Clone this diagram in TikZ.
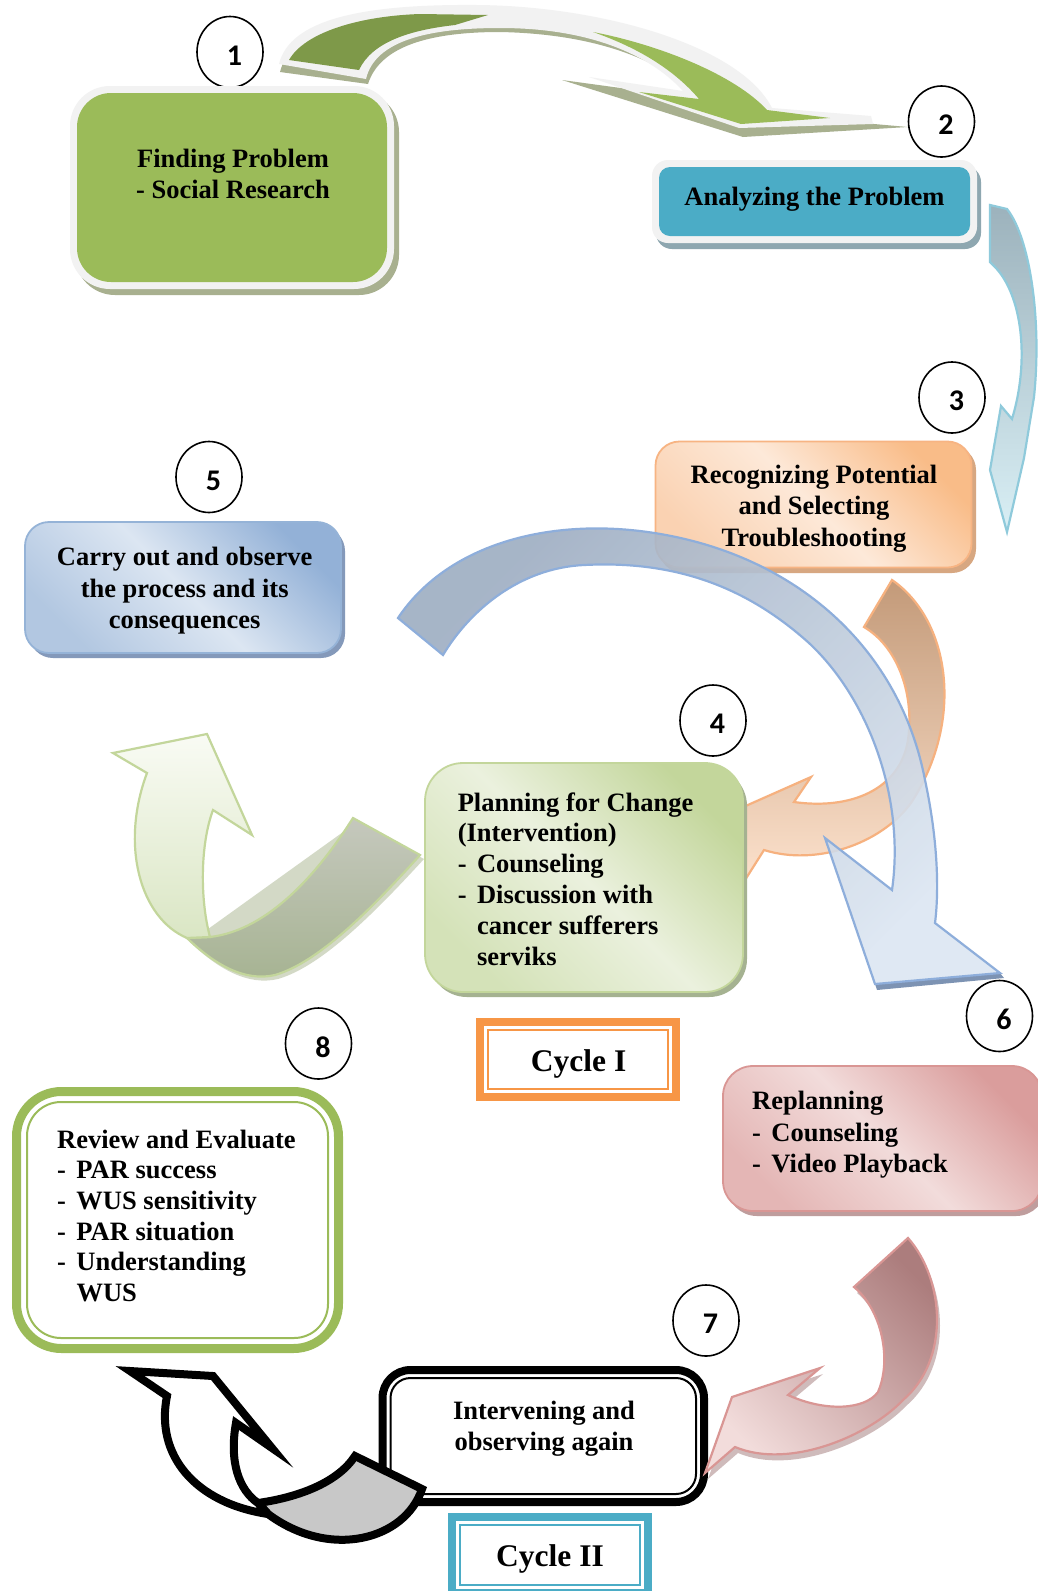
\documentclass[tikz,border=0pt]{standalone}
\usepackage{fontspec}
\setmainfont{Liberation Serif}
\newfontfamily\numfont{Carlito}
\usetikzlibrary{shapes.geometric}
\definecolor{olgreen}{HTML}{9BBB59}
\definecolor{oldark}{HTML}{7E9949}
\definecolor{framegray}{HTML}{F2F2F2}
\definecolor{shgreen}{HTML}{A8B08F}
\definecolor{aqua}{HTML}{4BACC6}
\definecolor{shaqua}{HTML}{8EA7B0}
\definecolor{orangeacc}{HTML}{F79646}
\definecolor{orbord}{HTML}{F7B483}
\definecolor{orshadow}{HTML}{D7A781}
\definecolor{orTR}{HTML}{F9BC88}
\definecolor{orMid}{HTML}{FDE9D9}
\definecolor{orBL}{HTML}{FAD2B2}
\definecolor{blbord}{HTML}{95B3D7}
\definecolor{blshadow}{HTML}{8499BA}
\definecolor{blTR}{HTML}{93B1D7}
\definecolor{blMid}{HTML}{DCE6F2}
\definecolor{blBL}{HTML}{B2C7E1}
\definecolor{grbord}{HTML}{C3D69B}
\definecolor{grshadow}{HTML}{A5B291}
\definecolor{grTR}{HTML}{C3D69B}
\definecolor{grMid}{HTML}{EBF1DE}
\definecolor{grBL}{HTML}{D4E2B8}
\definecolor{pkbord}{HTML}{D99694}
\definecolor{pkshadow}{HTML}{BF9D9D}
\definecolor{pkTR}{HTML}{DA9D9C}
\definecolor{pkMid}{HTML}{F2DCDB}
\definecolor{pkBL}{HTML}{E4B6B5}
\definecolor{pkTail}{HTML}{AC7D7D}
\definecolor{pkArrSh}{HTML}{B08E8E}
\definecolor{orTail}{HTML}{C39A79}
\definecolor{orMidA}{HTML}{DDB596}
\definecolor{orHead}{HTML}{FCE1CC}
\definecolor{orArrBord}{HTML}{F6B17F}
\definecolor{aqTop}{HTML}{9CB2BC}
\definecolor{aqBot}{HTML}{D9EFF5}
\definecolor{aqBord}{HTML}{8FCADB}
\definecolor{arcTop}{HTML}{9DADC2}
\definecolor{arcBot}{HTML}{DCE6F2}
\definecolor{arcBord}{HTML}{8EAEDB}
\definecolor{arcSh}{HTML}{7D93B3}
\definecolor{lgFrontTop}{HTML}{F9FBF4}
\definecolor{lgFrontBot}{HTML}{DAE6C4}
\definecolor{lgBackTop}{HTML}{C5C8BD}
\definecolor{lgBackBot}{HTML}{A6B392}
\definecolor{lgSh}{HTML}{A9B58F}
\definecolor{backgray}{HTML}{C8C8C8}
\newcommand{\dashitem}[1]{\makebox[19.3pt][l]{-}#1}
\begin{document}
\begin{tikzpicture}[x=1pt,y=-1pt,
  numc/.style={ellipse,draw=black,line width=1.6pt,fill=white,minimum width=66pt,minimum height=71pt,inner sep=0pt,
    label={[font=\numfont\bfseries\fontsize{30}{36}\selectfont,inner sep=0pt,xshift=4.5pt,yshift=-3.5pt]center:#1}},
  txt/.style={inner sep=0pt,font=\fontsize{26.5}{#1}\selectfont\bfseries},
  txt/.default=31,
  blockarrow/.style={line width=2.2pt,line join=miter,miter limit=6},
  diag/.style n args={3}{top color=#1,bottom color=#3,middle color=#2,shading angle=-45},
  softbox/.style={inner sep=0pt,line width=1.8pt}
]
\useasboundingbox (0,0) rectangle (1038,1591);
\fill[white] (0,0) rectangle (1038,1591);

% ---------- arrow 1 -> 2 (green, framed) ----------
\fill[shgreen] (280,72) .. controls (290,30) and (360,10) .. (477,10) .. controls (600,11) and (740,50) .. (772,115) -- (908,127) -- (743,137) -- (562,80) -- (701,99) .. controls (665,62) and (600,34) .. (500,32) .. controls (430,32) and (380,46) .. (368,84) -- cycle;
\fill[framegray] (279,64) .. controls (290,20) and (360,4) .. (477,5) .. controls (600,6) and (740,45) .. (772,108) -- (871,116) -- (873,124) -- (739,128) -- (589,77) -- (683,91) .. controls (650,55) and (590,28) .. (500,28) .. controls (430,28) and (375,40) .. (366,79) -- cycle;
\fill[oldark] (289,60) .. controls (305,32) and (360,16) .. (420,14) -- (488,15) -- (455,25) .. controls (410,30) and (372,42) .. (359,70) -- cycle;
\fill[olgreen] (593,32) .. controls (660,45) and (735,75) .. (767,110) -- (830,118) -- (741,124) -- (639,92) -- (699,99) .. controls (670,65) and (630,45) .. (593,32) -- cycle;

% ---------- circles 1, 2 ----------
\node[numc=1] (c1) at (230,52) {};
\node[numc=2] (c2) at (941.5,121.5) {};

% ---------- box 1 ----------
\fill[shgreen, rounded corners=40pt] (75,92) rectangle (399,295);
\fill[framegray, rounded corners=40pt] (70,86) rectangle (394,289);
\node[fill=olgreen, rounded corners=34pt, minimum width=310pt, minimum height=189pt, inner sep=0pt] (b1) at (232,187.5) {};
\node[txt, anchor=north, align=center] (t1) at (233,145.3) {\strut Finding Problem\\- Social Research};

% ---------- box 2 ----------
\fill[shaqua, rounded corners=16pt] (656,166) rectangle (981,249);
\fill[framegray, rounded corners=16pt] (652,160) rectangle (977,243);
\node[fill=aqua, rounded corners=11pt, minimum width=311pt, minimum height=69pt, inner sep=0pt] (b2) at (814.5,201.5) {};
\node[txt, anchor=north] (t2) at (814.5,183.8) {\strut Analyzing the Problem};

% ---------- arrow 2 -> 3 ----------
\path[blockarrow, draw=aqBord, top color=aqTop, bottom color=aqBot] (990,205) -- (1007,209) .. controls (1030,238) and (1042,320) .. (1034,397) -- (1024,458) -- (1007,532) -- (990,470) -- (1001,406) -- (1012,419) .. controls (1030,360) and (1022,295) .. (995,267) -- (990,262) -- cycle;
\node[numc=3] (c3) at (952,397.5) {};

% ---------- box 3 ----------
\fill[orshadow, rounded corners=24pt] (659,446) rectangle (976,573);
\node[softbox, draw=orbord, rounded corners=24pt, diag={orTR}{orMid}{orBL}, minimum width=316pt, minimum height=126pt] (b3) at (813.5,504.5) {};
\node[txt=31.4, anchor=north, align=center] (t3) at (814,461.4) {\strut Recognizing Potential\\and Selecting\\Troubleshooting};

% ---------- arrow 3 -> 4 (orange) ----------
\path[blockarrow, draw=orArrBord, top color=orTail, middle color=orMidA, bottom color=orHead] (892,580) .. controls (950,620) and (965,720) .. (911,803) .. controls (880,845) and (815,866) .. (764,850) -- (745,880) -- (732,812) -- (811,777) -- (794,802) .. controls (850,810) and (900,790) .. (908,740) .. controls (915,690) and (895,645) .. (864,627) -- cycle;

% ---------- box 5 ----------
\fill[blshadow, rounded corners=24pt] (29,527) rectangle (345,658);
\node[softbox, draw=blbord, rounded corners=24pt, diag={blTR}{blMid}{blBL}, minimum width=316pt, minimum height=131pt] (b5) at (183,587.5) {};
\node[txt=31.5, anchor=north, align=center] (t5) at (184.7,543.5) {\strut Carry out and observe\\the process and its\\consequences};
\node[numc=5] (c5) at (209,477) {};

% ---------- arrow 4 -> 5 (light green) ----------
\fill[lgSh, opacity=0.5] (190,942) .. controls (218,969) and (248,986) .. (278,979) .. controls (323,966) and (378,909) .. (424,859) -- (357,822) -- cycle;
\path[blockarrow, draw=grbord, top color=lgBackTop, bottom color=lgBackBot] (187,938) .. controls (215,965) and (245,982) .. (275,975) .. controls (320,962) and (375,905) .. (420,855) -- (353,818) .. controls (320,870) and (270,930) .. (210,937) -- cycle;
\path[blockarrow, draw=grbord, top color=lgFrontTop, bottom color=lgFrontBot] (147,773) -- (113,753) -- (207,734) -- (252,835) -- (213,810) .. controls (200,845) and (200,900) .. (210,937) -- (187,938) .. controls (140,918) and (120,845) .. (147,773) -- cycle;

% ---------- box 4 ----------
\fill[grshadow, rounded corners=38pt] (429,768) rectangle (747,997);
\node[softbox, draw=grbord, rounded corners=38pt, diag={grTR}{grMid}{grBL}, minimum width=318pt, minimum height=229pt] (b4) at (584,877.5) {};
\node[txt=30.8, anchor=north west, align=left] (t4) at (457.6,789.4) {\strut Planning for Change\\(Intervention)\\\dashitem{Counseling}\\\dashitem{Discussion with}\\\hspace*{19.3pt}cancer sufferers\\\hspace*{19.3pt}serviks};
\node[numc=4] (c4) at (713,720.5) {};

% ---------- arrow 5 -> 6 (big blue arc) ----------
\fill[arcSh] (1000,973) -- (875,984) -- (877,990) -- (1004,978) -- cycle;
\path[blockarrow, draw=arcBord, top color=arcTop, bottom color=arcBot, shading angle=45, fill opacity=0.9] (398,618) .. controls (450,540) and (560,515) .. (666,535) .. controls (800,560) and (900,650) .. (925,780) .. controls (940,850) and (938,900) .. (935,923) -- (1000,973) -- (875,984) -- (825,838) -- (892,890) .. controls (905,800) and (870,700) .. (809,643) .. controls (750,590) and (680,560) .. (584,565) .. controls (520,568) and (470,610) .. (443,655) -- cycle;

% ---------- box 6 ----------
\node[numc=6] (c6) at (999.5,1016) {};
\fill[pkshadow, rounded corners=30pt] (727,1071) rectangle (1046,1216);
\node[softbox, draw=pkbord, rounded corners=30pt, diag={pkTR}{pkMid}{pkBL}, minimum width=319pt, minimum height=145pt] (b6) at (882.5,1138.5) {};
\node[txt=31.5, anchor=north west, align=left] (t6) at (752,1087.5) {\strut Replanning\\\dashitem{Counseling}\\\dashitem{Video Playback}};

% ---------- Cycle I ----------
\node[draw=orangeacc, line width=8pt, fill=white, minimum width=196pt, minimum height=75pt, inner sep=0pt] (cy1) at (578,1059.5) {};
\draw[orangeacc, line width=2pt] (488,1030) rectangle (668,1089);
\node[inner sep=0pt, font=\fontsize{31.5}{37}\selectfont\bfseries, anchor=north] (tc1) at (578.6,1045.8) {\strut Cycle I};

% ---------- box 8 ----------
\node[numc=8] (c8) at (318.5,1043.5) {};
\node[draw=olgreen, line width=9pt, fill=white, rounded corners=45pt, minimum width=322pt, minimum height=257pt, inner sep=0pt] (b8) at (177.5,1220) {};
\draw[olgreen, line width=2pt, rounded corners=34pt] (27,1102) rectangle (328,1338);
\node[txt=30.6, anchor=north west, align=left] (t8) at (57,1126.6) {\strut Review and Evaluate\\\dashitem{PAR success}\\\dashitem{WUS sensitivity}\\\dashitem{PAR situation}\\\dashitem{Understanding}\\\hspace*{19.3pt}WUS};

% ---------- box 7 ----------
\node[numc=7] (c7) at (706,1320.5) {};
\node[draw=black, line width=8pt, fill=white, rounded corners=28pt, minimum width=321.5pt, minimum height=132pt, inner sep=0pt] (b7) at (543.25,1436) {};
\draw[black, line width=2pt, rounded corners=20pt] (390.5,1378) rectangle (696,1494);
\node[txt=31.5, anchor=north, align=center] (t7) at (544,1397) {\strut Intervening and\\observing again};

% ---------- arrow 6 -> 7 (pink) ----------
\fill[pkArrSh, opacity=0.6] (911,1244) .. controls (948,1286) and (953,1366) .. (906,1406) .. controls (873,1441) and (793,1476) .. (738,1453) -- (708,1479) -- (735,1403) -- (823,1374) -- (791,1401) .. controls (828,1418) and (868,1416) .. (881,1398) .. controls (895,1366) and (885,1316) .. (857,1293) -- cycle;
\path[blockarrow, draw=pkbord, top color=pkTail, bottom color=pkMid, shading angle=-45] (908,1238) .. controls (945,1280) and (950,1360) .. (903,1400) .. controls (870,1435) and (790,1470) .. (735,1447) -- (705,1473) -- (732,1397) -- (820,1368) -- (788,1395) .. controls (825,1412) and (865,1410) .. (878,1392) .. controls (892,1360) and (882,1310) .. (854,1287) -- cycle;

% ---------- arrow 7 -> 8 (black outline) ----------
\path[draw=black, line width=8pt, line join=miter, miter limit=12, fill=backgray] (258,1503) .. controls (300,1497) and (338,1482) .. (355,1456) -- (422,1489) .. controls (405,1540) and (330,1560) .. (268,1514) -- cycle;
\path[draw=black, line width=8pt, line join=miter, miter limit=12, fill=white] (167,1396) -- (130,1371) -- (213,1376) -- (272,1448) -- (236,1423) .. controls (229,1462) and (239,1490) .. (258,1503) -- (268,1514) .. controls (195,1503) and (155,1455) .. (167,1396) -- cycle;

% ---------- Cycle II ----------
\node[draw=aqua, line width=8pt, fill=white, minimum width=196pt, minimum height=76pt, inner sep=0pt] (cy2) at (549.5,1555) {};
\draw[aqua, line width=2pt] (459.5,1525) rectangle (639.5,1585);
\node[inner sep=0pt, font=\fontsize{31.5}{37}\selectfont\bfseries, anchor=north] (tc2) at (550,1540.7) {\strut Cycle II};
\end{tikzpicture}
\end{document}
